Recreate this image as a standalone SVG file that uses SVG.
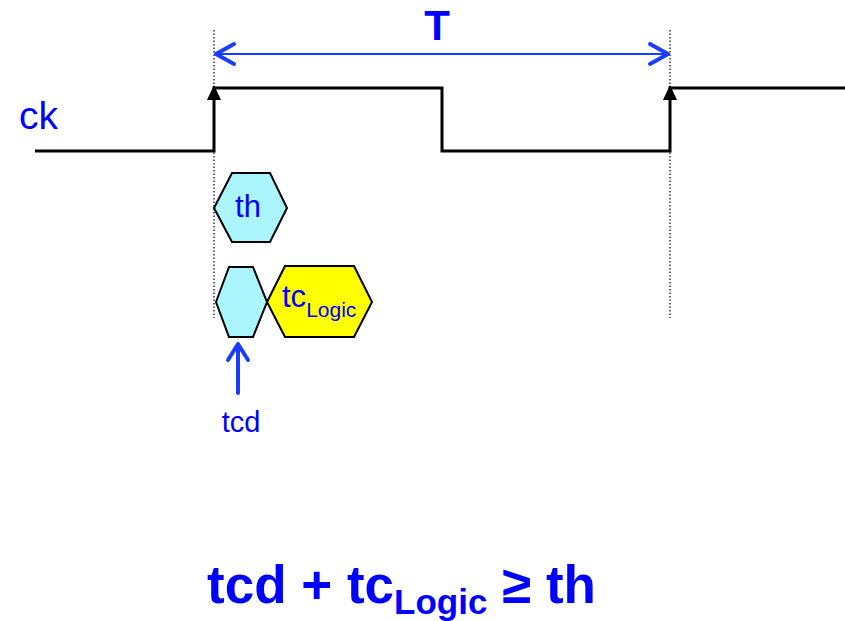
<svg xmlns="http://www.w3.org/2000/svg" width="845" height="621" viewBox="0 0 845 621">
<style>
.dot{stroke:#000;stroke-width:1.2;stroke-dasharray:1.5 2;fill:none}
.clk{stroke:#000;stroke-width:3;fill:none}
.hex{stroke:#000;stroke-width:2}
.blue{fill:#0000ff;font-family:"Liberation Sans",Arial,sans-serif}
.barrow{stroke:#1a3cff;stroke-width:4;fill:none;stroke-linecap:round;stroke-linejoin:round}
</style>
<rect width="845" height="621" fill="#fff"/>
<g id="guides">
<line class="dot" x1="214" y1="30" x2="214" y2="318"/>
<line class="dot" x1="670" y1="30" x2="670" y2="318"/>
</g>
<g id="period">
<line x1="216" y1="54" x2="668" y2="54" stroke="#1a3cff" stroke-width="2"/>
<polyline class="barrow" points="234,44 216,54 234,64"/>
<polyline class="barrow" points="650,44 668,54 650,64"/>
<text class="blue" x="437" y="40" font-size="42" font-weight="bold" text-anchor="middle">T</text>
</g>
<g id="clock">
<polyline class="clk" points="35,151 214,151 214,88 442,88 442,151 670,151 670,88 845,88"/>
<polygon points="214,85 207,100 221,100" fill="#000"/>
<polygon points="670,85 663,100 677,100" fill="#000"/>
<text class="blue" x="19" y="129" font-size="39">ck</text>
</g>
<g id="th">
<polygon class="hex" fill="#aaf5ff" points="214,208 232,173 270,173 287,208 270,242 232,242"/>
<text class="blue" x="248" y="217" font-size="31" text-anchor="middle">th</text>
</g>
<g id="tcd-hex">
<polygon class="hex" fill="#aaf5ff" points="216,302 229,267 253,267 267,302 253,337 229,337"/>
</g>
<g id="tclogic">
<polygon class="hex" fill="#ffff00" points="267,302 285,266 354,266 372,302 354,337 285,337"/>
<text class="blue" x="282" y="307" font-size="31">tc<tspan font-size="21" dy="10">Logic</tspan></text>
</g>
<g id="tcd">
<line class="barrow" x1="238" y1="393" x2="238" y2="345"/>
<polyline class="barrow" points="228,360 238,344 248,360"/>
<text class="blue" x="241" y="432" font-size="29" text-anchor="middle">tcd</text>
</g>
<g id="equation">
<text class="blue" x="207" y="603" font-size="53" font-weight="bold">tcd + tc<tspan font-size="35" dy="11">Logic</tspan><tspan dy="-11"> ≥ th</tspan></text>
</g>
</svg>
